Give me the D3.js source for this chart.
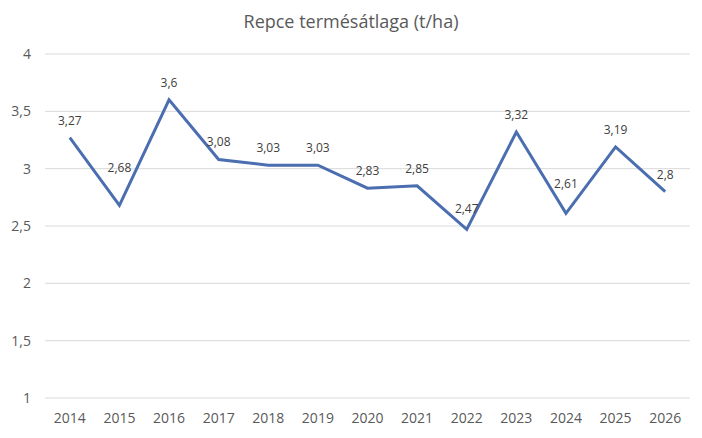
<!DOCTYPE html>
<html>
<head>
<meta charset="utf-8">
<script src="https://cdn.jsdelivr.net/npm/d3@7"></script>
<style>
  body { margin: 0; background: #fff; }
  text { font-family: "Open Sans", "Noto Sans", sans-serif; }
</style>
</head>
<body>
<div id="chart"></div>
<script>
const years = ['2014', '2015', '2016', '2017', '2018', '2019', '2020', '2021', '2022', '2023', '2024', '2025', '2026'];
const yields = [3.27, 2.68, 3.6, 3.08, 3.03, 3.03, 2.83, 2.85, 2.47, 3.32, 2.61, 3.19, 2.8];
const yTicks = [1, 1.5, 2, 2.5, 3, 3.5, 4];

// extra lift (px) for labels Excel pushed off the line
const labelLift = [0, 20, 0, 0, 0, 0, 0, 0, 3, 0, 12, 0, 0];

const width = 702, height = 438;
const margin = { left: 45, top: 54, right: 12, bottom: 40 };
const innerWidth = width - margin.left - margin.right;
const innerHeight = height - margin.top - margin.bottom;

// comma decimal like the original
const fmt = v => String(v).replace('.', ',');

const svg = d3.select('#chart')
  .append('svg')
  .attr('width', width)
  .attr('height', height);

svg.append('text')
  .attr('x', 351)
  .attr('y', 28)
  .attr('text-anchor', 'middle')
  .attr('font-size', 18)
  .attr('fill', '#595959')
  .text('Repce termésátlaga (t/ha)');

const g = svg.append('g')
  .attr('transform', `translate(${margin.left},${margin.top})`);

const x = d3.scaleBand()
  .domain(years)
  .range([0, innerWidth]);

const y = d3.scaleLinear()
  .domain([1, 4])
  .range([innerHeight, 0]);

// gridlines
g.append('g')
  .selectAll('line')
  .data(yTicks)
  .join('line')
  .attr('x1', 0)
  .attr('x2', innerWidth)
  .attr('y1', d => y(d))
  .attr('y2', d => y(d))
  .attr('stroke', '#d9d9d9')
  .attr('stroke-width', 1);

// y axis
const yAxis = g.append('g')
  .call(d3.axisLeft(y).tickValues(yTicks).tickFormat(fmt).tickSize(0).tickPadding(14));
yAxis.select('.domain').remove();
yAxis.selectAll('text')
  .attr('font-size', 14)
  .attr('fill', '#595959')
  .style('font-family', '"Open Sans", sans-serif');

// x axis
const xAxis = g.append('g')
  .attr('transform', `translate(0,${innerHeight})`)
  .call(d3.axisBottom(x).tickSize(0).tickPadding(15));
xAxis.select('.domain').remove();
xAxis.selectAll('text')
  .attr('font-size', 14)
  .attr('fill', '#595959')
  .style('font-family', '"Open Sans", sans-serif');

const cx = (d, i) => x(years[i]) + x.bandwidth() / 2;

const line = d3.line()
  .x(cx)
  .y(d => y(d));

g.append('path')
  .datum(yields)
  .attr('d', line)
  .attr('fill', 'none')
  .attr('stroke', '#4a6eb0')
  .attr('stroke-width', 3)
  .attr('stroke-linejoin', 'miter');

// data labels
g.append('g')
  .selectAll('text')
  .data(yields)
  .join('text')
  .attr('x', cx)
  .attr('y', (d, i) => y(d) - 13 - labelLift[i])
  .attr('text-anchor', 'middle')
  .attr('font-size', 12)
  .attr('fill', '#404040')
  .text(fmt);
</script>
</body>
</html>
